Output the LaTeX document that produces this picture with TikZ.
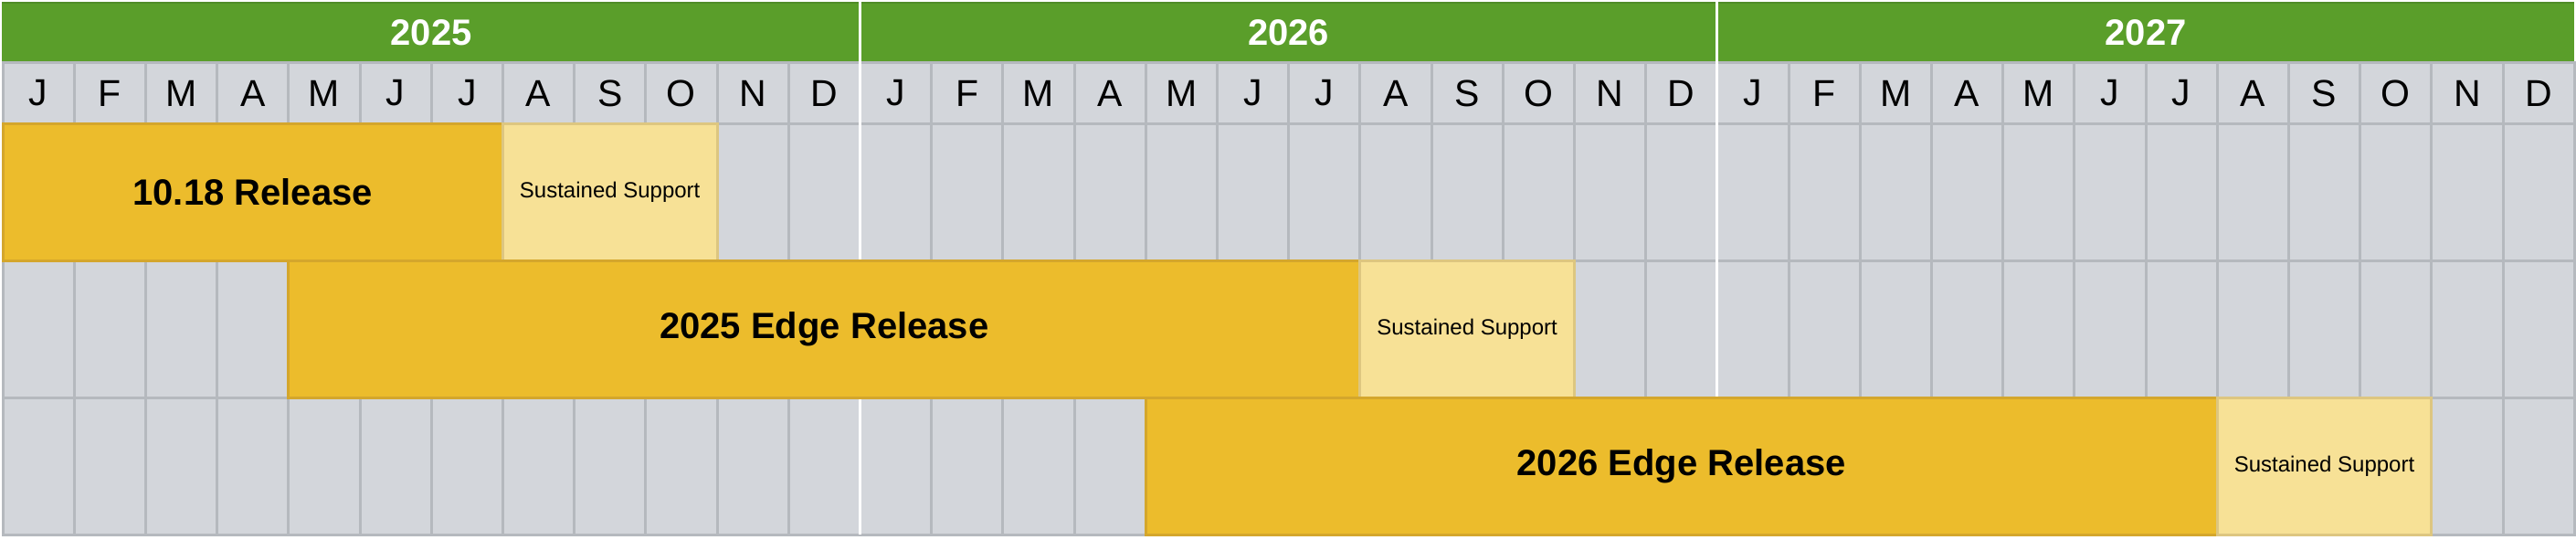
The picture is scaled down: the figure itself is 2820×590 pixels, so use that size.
\documentclass[tikz,border=0pt]{standalone}
\usepackage{fontspec}
\setmainfont{Liberation Sans}
\usepackage{tikz}
\usetikzlibrary{positioning}

\definecolor{hdrgreen}{RGB}{90,158,42}
\definecolor{hdredge}{RGB}{80,140,40}
\definecolor{cellgray}{RGB}{211,214,219}
\definecolor{gridgray}{RGB}{181,185,190}
\definecolor{relgold}{RGB}{236,188,44}
\definecolor{relgoldedge}{RGB}{212,166,44}
\definecolor{susyellow}{RGB}{247,225,150}
\definecolor{susedge}{RGB}{221,198,128}

\newcommand{\monthw}{78.2}

\tikzset{
  cell/.style={fill=cellgray, draw=gridgray, line width=3pt},
  yearlabel/.style={text=white, font=\fontsize{40}{48}\selectfont\bfseries},
  monthlabel/.style={font=\fontsize{41}{48}\selectfont},
  relbar/.style={fill=relgold, draw=relgoldedge, line width=3pt, anchor=north west,
    inner sep=0pt, outer sep=0pt, minimum height=150pt,
    font=\fontsize{40}{48}\selectfont\bfseries},
  susbar/.style={fill=susyellow, draw=susedge, line width=3pt, inner sep=0pt,
    outer sep=0pt, minimum height=150pt, minimum width={3*\monthw*1pt},
    font=\fontsize{24}{29}\selectfont}
}

\begin{document}
\begin{tikzpicture}[x=1pt,y=-1pt,line join=miter]
\useasboundingbox (0,0) rectangle (2820,590);

% year header
\fill[hdrgreen] (2,2) rectangle (2818,68);
\draw[hdredge, line width=2pt] (2,3) -- (2818,3);
\foreach \yr [count=\k from 0] in {2025,2026,2027}
  \node[yearlabel] (yr\yr) at ({3+(12*\k+6)*\monthw},36) {\yr};

% month cells and empty grid
\foreach \c in {0,...,35}{
  \draw[cell] ({3+\c*\monthw},68) rectangle ++(\monthw,67);
  \foreach \top in {135,285,435}
    \draw[cell] ({3+\c*\monthw},\top) rectangle ++(\monthw,150);
}
\foreach \k in {0,1,2}
  \foreach \m [count=\i from 0] in {J,F,M,A,M,J,J,A,S,O,N,D}
    \node[monthlabel] (m\k-\i) at ({3+(12*\k+\i+0.5)*\monthw},102) {\m};

% year separators
\foreach \s in {12,24}
  \draw[white, line width=3pt] ({3+\s*\monthw},2) -- ({3+\s*\monthw},585);

% releases
\node[relbar, minimum width={7*\monthw*1pt}] (rel1018) at (3,135) {10.18 Release};
\node[susbar, right=0pt of rel1018] (sus1018) {Sustained Support};

\node[relbar, minimum width={15*\monthw*1pt}] (edge2025) at ({3+4*\monthw},285) {2025 Edge Release};
\node[susbar, right=0pt of edge2025] (sus2025) {Sustained Support};

\node[relbar, minimum width={15*\monthw*1pt}] (edge2026) at ({3+16*\monthw},435) {2026 Edge Release};
\node[susbar, right=0pt of edge2026] (sus2026) {Sustained Support};
\end{tikzpicture}
\end{document}
